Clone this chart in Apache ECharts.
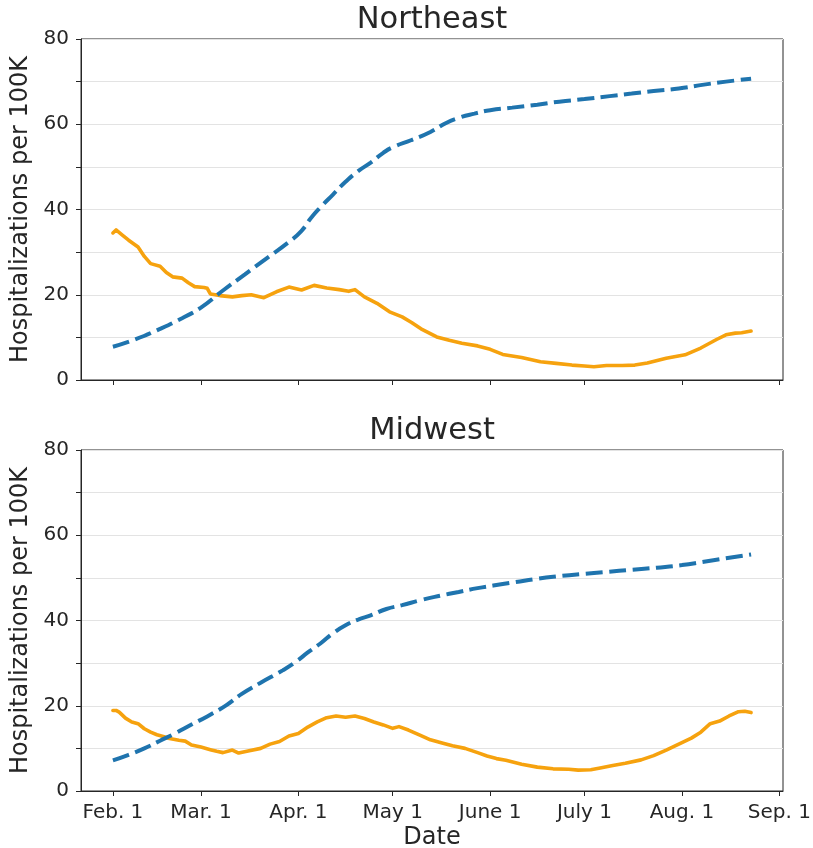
<!DOCTYPE html>
<html><head><meta charset="utf-8">
<script src="https://cdn.jsdelivr.net/npm/echarts@6/dist/echarts.min.js"></script>
<style>html,body{margin:0;padding:0;background:#fff}#c{width:813px;height:848px}</style>
</head><body><div id="c"></div>
<script>
// x axis: days since Feb. 1
const tickDays = [0, 28, 59, 89, 120, 150, 181, 212];
const tickLabels = ['Feb. 1', 'Mar. 1', 'Apr. 1', 'May 1', 'June 1', 'July 1', 'Aug. 1', 'Sep. 1'];
const panelTitles = ['Northeast', 'Midwest'];
const yLabel = 'Hospitalizations per 100K';
const xLabel = 'Date';

// Northeast
const neSolidDays = [0,1,3,5,8,10,12,15,17,19,22,24,26,29,30,31,34,38,41,44,48,52,56,60,64,68,72,75,77,80,84,88,92,95,98,103,107,111,116,120,124,130,136,141,146,150,153,157,162,166,170,176,182,187,192,195,198,200,203];
const neSolidVals = [34.5,35.2,34,32.8,31.2,29,27.3,26.7,25.2,24.2,23.9,22.8,21.9,21.7,21.5,20.2,19.8,19.5,19.8,20,19.3,20.7,21.8,21.1,22.2,21.6,21.2,20.8,21.2,19.5,18,16,14.8,13.5,12,10.1,9.3,8.6,8,7.2,6,5.3,4.3,3.9,3.5,3.3,3.1,3.4,3.4,3.5,4,5.1,5.9,7.5,9.5,10.6,11,11.1,11.5];
const neDashDays = [0,7,15,22,28,35,42,49,56,60,63,66,70,74,78,82,86,89,95,101,106,110,115,120,127,135,142,150,158,165,172,180,188,195,203];
const neDashVals = [7.8,9.5,12,14.5,17,21,24.8,28.6,32.4,35,38,40.5,43.5,46.5,49,51,53.3,54.6,56.3,58.2,60.3,61.5,62.5,63.3,63.9,64.6,65.3,65.9,66.6,67.2,67.8,68.4,69.3,70,70.7];

// Midwest
const mwSolidDays = [0,1,2,4,6,8,10,12,14,16,18,21,23,25,28,31,33,35,38,40,43,47,50,53,56,59,62,65,68,71,74,77,80,83,86,89,91,94,98,101,105,108,112,116,119,122,125,130,135,140,145,148,152,155,159,163,168,172,176,180,184,187,190,193,196,199,201,203];
const mwSolidVals = [18.9,18.9,18.5,17.1,16.2,15.8,14.6,13.8,13.2,12.8,12.3,11.9,11.7,10.8,10.3,9.7,9.3,9.0,9.6,8.9,9.4,10,11,11.6,12.9,13.5,15,16.2,17.2,17.6,17.3,17.6,17,16.2,15.5,14.7,15.1,14.3,13,12,11.2,10.6,10,9,8.2,7.6,7.2,6.3,5.6,5.2,5.1,4.9,5,5.4,6,6.5,7.3,8.3,9.6,11,12.4,13.8,15.8,16.4,17.6,18.6,18.7,18.4];
const mwDashDays = [0,5,10,15,20,25,30,36,41,47,54,58,62,66,70,74,78,82,87,92,98,104,110,116,121,128,135,142,149,157,165,173,181,188,195,203];
const mwDashVals = [7.2,8.5,10,11.8,13.6,15.6,17.5,20.1,22.8,25.4,28.3,30.2,32.5,34.6,37,38.9,40.2,41.2,42.7,43.6,44.8,45.8,46.7,47.6,48.2,49,49.8,50.4,50.9,51.4,51.9,52.4,53,53.8,54.6,55.5];

const zip = (a, b) => a.map((d, i) => [d, b[i]]);
const FONT = 'DejaVu Sans';
const INK = '#262626';
const ORANGE = '#f6a20e';
const BLUE = '#1f74ae';

function grid(top) {
  return { left: 81, right: 30, top: top, height: 341, show: true, borderColor: INK, borderWidth: 1, backgroundColor: 'transparent', containLabel: false, outerBoundsMode: 'none' };
}
function xAxis(gi, showLabels, name) {
  return {
    type: 'value', gridIndex: gi, min: -10.15, max: 213.15,
    axisLine: { show: true, onZero: false, lineStyle: { color: INK, width: 1 } },
    axisTick: { show: true, customValues: tickDays, length: 5, lineStyle: { color: INK, width: 1 } },
    axisLabel: { show: showLabels, customValues: tickDays, formatter: v => { const i = tickDays.indexOf(v); return i >= 0 ? tickLabels[i] : ''; }, fontSize: 20, color: INK, margin: 12, fontFamily: FONT },
    splitLine: { show: false },
    name: name, nameLocation: 'middle', nameGap: 35,
    nameTextStyle: { fontSize: 24, color: INK, fontFamily: FONT }
  };
}
function yAxis(gi) {
  return {
    type: 'value', gridIndex: gi, min: 0, max: 80, interval: 10,
    axisLine: { show: true, onZero: false, lineStyle: { color: INK, width: 1 } },
    axisTick: { show: true, length: 5, lineStyle: { color: INK, width: 1 } },
    axisLabel: { formatter: v => (v % 20 === 0 ? String(v) : ''), fontSize: 20, color: INK, margin: 12, fontFamily: FONT },
    splitLine: { show: true, lineStyle: { color: '#e3e3e3', width: 1 } },
    name: yLabel, nameLocation: 'middle', nameGap: 42, nameRotate: 90,
    nameTextStyle: { fontSize: 24, color: INK, fontFamily: FONT }
  };
}
function solid(gi, data) {
  return { type: 'line', xAxisIndex: gi, yAxisIndex: gi, data: data, showSymbol: false, symbol: 'none', smooth: false, z: 2,
    lineStyle: { color: ORANGE, width: 3.6, cap: 'round', join: 'round' }, emphasis: { disabled: true }, silent: true, animation: false };
}
function dashed(gi, data) {
  return { type: 'line', xAxisIndex: gi, yAxisIndex: gi, data: data, showSymbol: false, symbol: 'none', smooth: true, z: 3,
    lineStyle: { color: BLUE, width: 4, type: [17, 6.5], cap: 'butt' }, emphasis: { disabled: true }, silent: true, animation: false };
}

const chart = echarts.init(document.getElementById('c'), null, { renderer: 'canvas' });
chart.setOption({
  backgroundColor: '#fff',
  animation: false,
  title: [
    { text: panelTitles[0], left: 432, top: 5, textAlign: 'center', padding: 0, textStyle: { fontSize: 30.5, fontWeight: 'normal', color: INK, fontFamily: FONT } },
    { text: panelTitles[1], left: 432, top: 416, textAlign: 'center', padding: 0, textStyle: { fontSize: 30.5, fontWeight: 'normal', color: INK, fontFamily: FONT } }
  ],
  grid: [grid(39), grid(450)],
  xAxis: [xAxis(0, false, ''), xAxis(1, true, xLabel)],
  yAxis: [yAxis(0), yAxis(1)],
  series: [
    solid(0, zip(neSolidDays, neSolidVals)),
    dashed(0, zip(neDashDays, neDashVals)),
    solid(1, zip(mwSolidDays, mwSolidVals)),
    dashed(1, zip(mwDashDays, mwDashVals))
  ]
});
</script>
</body></html>
